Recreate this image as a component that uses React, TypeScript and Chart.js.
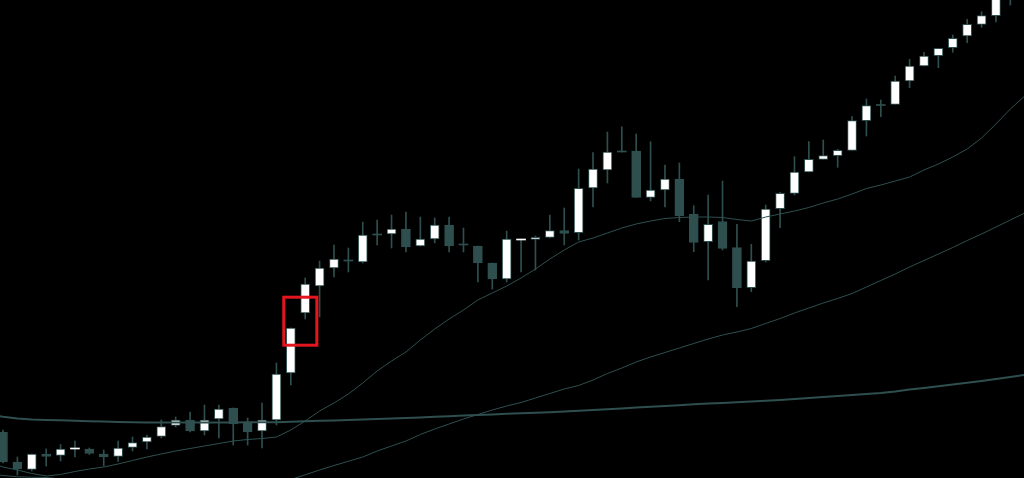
import React, { useEffect, useRef } from "react";
import { Chart, registerables } from "chart.js";

Chart.register(...registerables);

// Candle data (price units; index = bar number)
const OPEN = [46, 16, 8.5, 24, 22.5, 29, 29, 24, 21.5, 30.5, 36, 41.5, 52.5, 58, 47, 59, 70, 56, 47, 58, 105, 165, 192, 210, 218, 216, 244, 244, 249, 232, 239, 253, 234, 232, 215, 199, 238, 238.7, 240.7, 247.3, 245.3, 290, 308, 327, 327, 280.7, 288, 299, 264, 236.3, 256.3, 230.3, 190.3, 217.3, 269.3, 284.7, 306, 318.7, 322.3, 327.7, 357.3, 373.5, 373.7, 397, 412, 422.3, 430.3, 442, 453.7, 462.3, 486];
const HIGH = [48, 21, 24, 29, 33.5, 37, 30, 28, 37, 41, 43, 58, 61, 66, 73, 73, 70, 60, 75, 115, 150, 200, 217, 233, 230, 256, 258, 263, 266, 261, 260, 261, 250, 232, 215, 247, 239, 242, 263, 270, 309, 325.3, 346, 351.3, 344, 336.3, 313, 315, 272.3, 283, 297, 253.7, 233.7, 273, 285.7, 321.3, 336.3, 338, 328.7, 361.3, 379, 378, 402, 418.7, 425.7, 429.7, 443, 458.7, 466.3, 488, 508];
const LOW = [15, 3, 7, 12, 17, 21, 23.5, 12, 16.5, 27, 29, 40, 51, 46, 43, 40, 33, 33, 30, 53, 93, 159, 161, 201, 206, 215, 233, 230, 226, 232, 235, 226, 226, 196, 189, 196, 206, 208, 240, 233, 238, 271, 295, 326, 280.7, 277, 271, 256.3, 226.3, 198, 228, 171.3, 186.3, 216, 250.3, 283, 306, 318.7, 310.7, 327.7, 342, 361.3, 373.7, 390.3, 412, 410.3, 425.7, 435.3, 450.7, 456, 473];
const CLOSE = [16, 9, 24, 21.5, 29, 30, 24.5, 21, 30, 35.5, 41, 51.5, 58, 47, 58, 69, 54, 46, 58, 104, 150, 194, 210, 219, 217, 243, 243, 249, 231, 239, 253, 232, 233, 215, 199, 239, 239, 240.7, 247.3, 244.7, 289.7, 309, 326, 326, 280.7, 288, 299, 262.3, 235.7, 253.7, 229.7, 190.3, 217, 269, 284.7, 306, 318.7, 322.3, 327.7, 357.3, 372.3, 372.5, 397, 412, 422, 429.7, 439.7, 453.7, 462.3, 483, 503];

// Moving averages, first value belongs to bar index MA_FIRST_INDEX
const MA_FIRST_INDEX = -1;
const MA_FAST = [16, 11, 8, 4.5, 2, 3.5, 6.5, 9, 11, 14, 17.5, 21, 24, 27, 29.5, 32, 34.5, 37, 38.5, 39.5, 41, 48, 57, 67, 75, 84, 95, 107, 117, 126, 138, 149, 159, 168, 178, 185, 192, 200, 209, 219, 228, 236, 240, 245, 250, 254, 257, 259.5, 260.5, 261, 261, 260.5, 258.5, 257, 261, 264, 267, 270.5, 275, 279, 284, 289.5, 293, 297, 301, 308, 314, 321, 329, 340, 354, 369, 382];
const MA_MID = [4, 2.5, 1.2, 0.8, 0.5, -1, -3, -5, -7, -9, -11, -12.5, -14, -15, -16, -16, -16, -15, -13, -10.5, -7, -1.5, 3.2, 8, 12.5, 16.7, 21, 27, 32, 37, 43.5, 49, 54, 59, 63.5, 68, 72, 75.5, 80, 84.5, 89, 92.5, 98, 104.5, 110, 116, 121, 125.5, 130, 134.5, 139, 143, 146, 149.5, 154.5, 159.5, 165, 170, 175, 179.5, 184.5, 191, 197.5, 204, 211, 217.5, 224, 230.5, 237.5, 244, 251, 258, 265];
const MA_SLOW = [63.5, 61.2, 59.5, 58.5, 58, 57.7, 57.2, 56.7, 56.4, 56, 55.7, 55.6, 55.5, 55.5, 55.5, 55.5, 55.5, 55.6, 55.7, 55.7, 55.8, 56.2, 56.7, 57.2, 57.6, 58, 58.5, 59, 59.5, 60, 60.5, 61.2, 61.8, 62.4, 63, 63.6, 64.2, 64.8, 65.3, 65.8, 66.5, 67.2, 68, 68.7, 69.5, 70.4, 71.2, 72, 72.8, 73.7, 74.4, 75.1, 75.8, 76.5, 77.2, 78, 79, 80, 81, 82, 83, 84, 85, 86.5, 88.5, 90, 91.7, 93.4, 95.2, 97, 99, 101, 103];

// Visible window
const X_MIN = -0.2085;
const X_MAX = 70.95;
const Y_MIN = 0;
const Y_MAX = 478;

// Highlight box (bar index / price units)
const BOX_X = [19.51, 21.81];
const BOX_Y = [132.8, 180.8];

const SLATE = "#2F4F4F";
const BULL = "#FFFFFF";
const BOX_COLOR = "#E3151E";

const boxPlugin = {
  id: "highlightBox",
  afterDatasetsDraw(chart: any) {
    const { ctx, scales } = chart;
    const x1 = scales.x.getPixelForValue(BOX_X[0]);
    const x2 = scales.x.getPixelForValue(BOX_X[1]);
    const y1 = scales.y.getPixelForValue(BOX_Y[1]);
    const y2 = scales.y.getPixelForValue(BOX_Y[0]);
    ctx.save();
    ctx.strokeStyle = BOX_COLOR;
    ctx.lineWidth = 3;
    ctx.strokeRect(x1, y1, x2 - x1, y2 - y1);
    ctx.restore();
  },
};

export default function App() {
  const ref = useRef<HTMLCanvasElement | null>(null);

  useEffect(() => {
    if (!ref.current) return;
    const bodies = OPEN.map((o, i) => ({ x: i, y: [o, CLOSE[i]] }));
    const wicks = OPEN.map((_, i) => ({ x: i, y: [LOW[i], HIGH[i]] }));
    const ma = (arr: number[]) => arr.map((v, k) => ({ x: k + MA_FIRST_INDEX, y: v }));
    const isBull = (i: number) => CLOSE[i] >= OPEN[i];

    const chart = new Chart(ref.current, {
      type: "bar",
      data: {
        datasets: [
          {
            type: "line",
            data: ma(MA_SLOW),
            borderColor: SLATE,
            borderWidth: 2,
            pointRadius: 0,
            tension: 0,
            order: 0,
          } as any,
          {
            type: "line",
            data: ma(MA_MID),
            borderColor: SLATE,
            borderWidth: 1,
            pointRadius: 0,
            tension: 0,
            order: 0,
          } as any,
          {
            type: "line",
            data: ma(MA_FAST),
            borderColor: SLATE,
            borderWidth: 1,
            pointRadius: 0,
            tension: 0,
            order: 0,
          } as any,
          {
            type: "bar",
            data: bodies,
            grouped: false,
            barThickness: 9,
            backgroundColor: (c: any) => (isBull(c.dataIndex) ? BULL : SLATE),
            borderColor: SLATE,
            borderWidth: (c: any) =>
              Math.abs(OPEN[c.dataIndex] - CLOSE[c.dataIndex]) < 1.5 ? 0 : 1,
            borderSkipped: false,
            order: 1,
          } as any,
          {
            type: "bar",
            data: wicks,
            grouped: false,
            barThickness: 1,
            backgroundColor: SLATE,
            borderWidth: 0,
            order: 2,
          } as any,
        ],
      },
      options: {
        animation: false,
        responsive: false,
        devicePixelRatio: 1,
        events: [],
        layout: { padding: 0 },
        plugins: {
          legend: { display: false },
          tooltip: { enabled: false },
        },
        scales: {
          x: { type: "linear", min: X_MIN, max: X_MAX, display: false, offset: false },
          y: { type: "linear", min: Y_MIN, max: Y_MAX, display: false },
        },
      } as any,
      plugins: [boxPlugin],
    });
    return () => chart.destroy();
  }, []);

  return (
    <div
      style={{
        position: "fixed",
        left: 0,
        top: 0,
        width: 1024,
        height: 478,
        background: "#000",
        overflow: "hidden",
      }}
    >
      <canvas ref={ref} width={1024} height={478} style={{ display: "block" }} />
    </div>
  );
}
